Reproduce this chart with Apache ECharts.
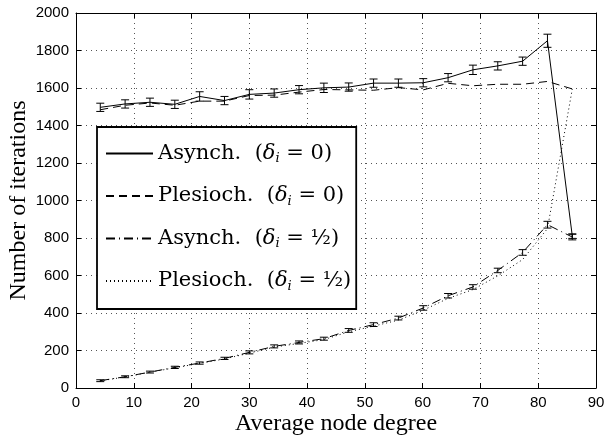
<!DOCTYPE html>
<html>
<head>
<meta charset="utf-8">
<script src="https://cdn.jsdelivr.net/npm/echarts@6/dist/echarts.min.js"></script>
<style>html,body{margin:0;padding:0;background:#fff;}#c{width:605px;height:435px;}</style>
</head>
<body>
<div id="c"></div>
<script>
const xVals = [4.2, 8.5, 12.8, 17.1, 21.4, 25.7, 30.0, 34.3, 38.6, 42.9, 47.2, 51.5, 55.8, 60.1, 64.4, 68.7, 73.0, 77.3, 81.6, 85.9];
const asyncD0 = [1497, 1515, 1524, 1513, 1555, 1533, 1566, 1573, 1591, 1601, 1605, 1626, 1626, 1628, 1655, 1697, 1718, 1743, 1852, 810];
const asyncD0Err = [22, 22, 22, 22, 25, 22, 25, 22, 22, 25, 22, 22, 22, 22, 22, 25, 22, 22, 35, 12];
const plesD0 = [1484, 1508, 1520, 1508, 1530, 1530, 1560, 1562, 1578, 1592, 1590, 1588, 1602, 1590, 1625, 1612, 1620, 1620, 1635, 1595];
const asyncDh = [39, 60, 85, 110, 133, 158, 190, 222, 243, 263, 307, 338, 373, 427, 492, 539, 627, 723, 871, 805];
const asyncDhErr = [5, 5, 5, 6, 6, 6, 8, 8, 8, 8, 10, 10, 10, 12, 12, 12, 12, 15, 18, 15];
const plesDh = [38, 59, 84, 108, 131, 155, 186, 218, 238, 258, 300, 330, 362, 415, 478, 525, 598, 685, 850, 1595];
const seriesNames = ['Asynch. (δi = 0)', 'Plesioch. (δi = 0)', 'Asynch. (δi = 1/2)', 'Plesioch. (δi = 1/2)'];
const legendRich = {
  'Asynch. (δi = 0)': 'Asynch.  ({it|δ}{sub|i} = 0)',
  'Plesioch. (δi = 0)': 'Plesioch.  ({it|δ}{sub|i} = 0)',
  'Asynch. (δi = 1/2)': 'Asynch.  ({it|δ}{sub|i} = ½)',
  'Plesioch. (δi = 1/2)': 'Plesioch.  ({it|δ}{sub|i} = ½)'
};

const pairs = (ys) => xVals.map((x, i) => [x, ys[i]]);
const errData = (ys, es) => xVals.map((x, i) => [x, ys[i], es[i]]);

function errRender(params, api) {
  const x = api.value(0), y = api.value(1), e = api.value(2);
  const t = api.coord([x, y + e]);
  const b = api.coord([x, y - e]);
  const w = 4;
  const st = { stroke: '#000', lineWidth: 1 };
  return {
    type: 'group',
    children: [
      { type: 'line', shape: { x1: t[0], y1: t[1], x2: b[0], y2: b[1] }, style: st },
      { type: 'line', shape: { x1: t[0] - w, y1: t[1], x2: t[0] + w, y2: t[1] }, style: st },
      { type: 'line', shape: { x1: b[0] - w, y1: b[1], x2: b[0] + w, y2: b[1] }, style: st }
    ]
  };
}

const chart = echarts.init(document.getElementById('c'), null, { renderer: 'canvas' });
const tickLbl = { fontFamily: 'Liberation Sans', fontSize: 15, color: '#000', formatter: (v) => String(v) };
const grid = { left: 76, right: 9, top: 13, bottom: 47, containLabel: false, outerBoundsMode: 'none' };
const mkAxisCommon = () => ({
  axisLine: { show: true, onZero: false, lineStyle: { color: '#000', width: 1 } },
  axisTick: { show: true, inside: true, length: 5, lineStyle: { color: '#000' } },
});
chart.setOption({
  backgroundColor: '#fff',
  animation: false,
  grid: grid,
  legend: {
    data: seriesNames,
    orient: 'vertical',
    left: 97,
    top: 127,
    backgroundColor: '#fff',
    borderColor: '#000',
    borderWidth: 1.8,
    borderRadius: 0,
    padding: [16, 5, 16, 8],
    itemWidth: 47,
    itemHeight: 14,
    itemGap: 20,
    itemStyle: { color: 'rgba(0,0,0,0)', borderColor: 'rgba(0,0,0,0)', borderWidth: 0 },
    formatter: (n) => legendRich[n],
    textStyle: {
      fontFamily: 'DejaVu Serif',
      fontSize: 21,
      color: '#000',
      rich: {
        it: { fontFamily: 'DejaVu Serif', fontStyle: 'italic', fontSize: 21, color: '#000' },
        sub: { fontFamily: 'DejaVu Serif', fontStyle: 'italic', fontSize: 13, color: '#000', padding: [11, 0, 0, 0] }
      }
    }
  },
  xAxis: [
    Object.assign(mkAxisCommon(), {
      type: 'value', min: 0, max: 90, interval: 10, position: 'bottom',
      axisLabel: Object.assign({ margin: 7 }, tickLbl),
      splitLine: { show: true, lineStyle: { color: '#555', type: [1, 4], width: 1 } },
      name: 'Average node degree', nameLocation: 'middle', nameGap: 24, nameMoveOverlap: false,
      nameTextStyle: { fontFamily: 'Liberation Serif', fontSize: 24, color: '#000' }
    }),
    Object.assign(mkAxisCommon(), {
      type: 'value', min: 0, max: 90, interval: 10, position: 'top',
      axisLabel: { show: false }, splitLine: { show: false }
    })
  ],
  yAxis: [
    Object.assign(mkAxisCommon(), {
      type: 'value', min: 0, max: 2000, interval: 200, position: 'left',
      axisLabel: Object.assign({ margin: 7 }, tickLbl),
      splitLine: { show: true, lineStyle: { color: '#555', type: [1, 4], width: 1 } },
      name: 'Number of iterations', nameLocation: 'middle', nameGap: 45, nameRotate: 90, nameMoveOverlap: false,
      nameTextStyle: { fontFamily: 'Liberation Serif', fontSize: 24, color: '#000' }
    }),
    Object.assign(mkAxisCommon(), {
      type: 'value', min: 0, max: 2000, interval: 200, position: 'right',
      axisLabel: { show: false }, splitLine: { show: false }
    })
  ],
  series: [
    { name: seriesNames[0], type: 'line', data: pairs(asyncD0), symbol: 'none', z: 5,
      lineStyle: { color: '#000', width: 1, type: 'solid' }, itemStyle: { color: '#000' } },
    { name: seriesNames[1], type: 'line', data: pairs(plesD0), symbol: 'none', z: 4,
      lineStyle: { color: '#000', width: 1, type: [8, 5] }, itemStyle: { color: '#000' } },
    { name: seriesNames[2], type: 'line', data: pairs(asyncDh), symbol: 'none', z: 5,
      lineStyle: { color: '#000', width: 1, type: [9, 4, 1, 4] }, itemStyle: { color: '#000' } },
    { name: seriesNames[3], type: 'line', data: pairs(plesDh), symbol: 'none', z: 4,
      lineStyle: { color: '#000', width: 1, type: [1, 3] }, itemStyle: { color: '#000' } },
    { name: 'errA0', type: 'custom', renderItem: errRender, data: errData(asyncD0, asyncD0Err), z: 6,
      encode: { x: 0, y: 1 } },
    { name: 'errAh', type: 'custom', renderItem: errRender, data: errData(asyncDh, asyncDhErr), z: 6,
      encode: { x: 0, y: 1 } }
  ]
});
</script>
</body>
</html>
